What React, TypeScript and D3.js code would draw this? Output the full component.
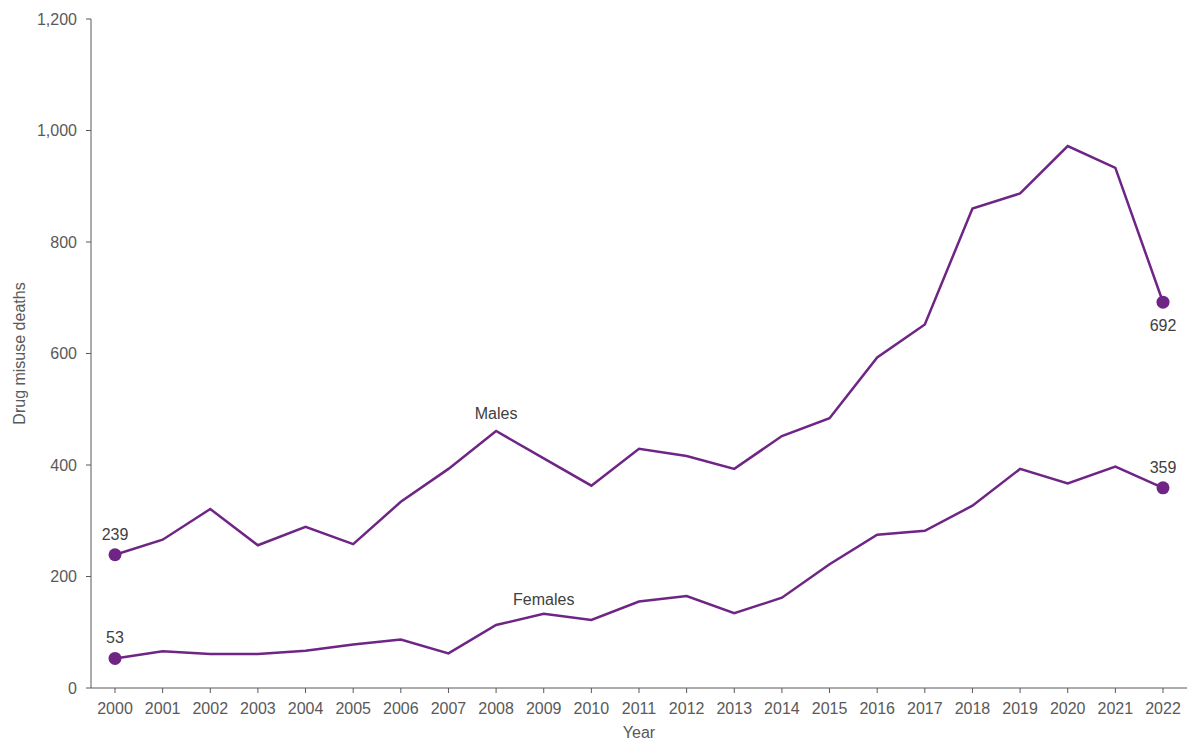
import React from "react";
import * as d3 from "d3";

const years = d3.range(2000, 2023);
const males = [239, 266, 321, 256, 289, 258, 334, 393, 461, 412, 363, 429, 416, 393, 452, 484, 593, 652, 860, 887, 972, 933, 692];
const females = [53, 66, 61, 61, 67, 78, 87, 62, 113, 133, 122, 155, 165, 134, 162, 222, 275, 282, 327, 393, 367, 397, 359];
const yTicks = [0, 200, 400, 600, 800, 1000, 1200];

const W = 1187;
const H = 740;
const PURPLE = "#6e2585";
const GREY = "#595959";
const FONT = "Liberation Sans, Arial, sans-serif";

export default function App() {
  const x = d3.scaleLinear().domain([2000, 2022]).range([115, 1163]);
  const y = d3.scaleLinear().domain([0, 1200]).range([688, 19]);
  const line = d3
    .line<number>()
    .x((_, i) => x(years[i]))
    .y((d) => y(d));
  const fmt = d3.format(",");
  const last = years.length - 1;

  return (
    <svg
      width={W}
      height={H}
      style={{ position: "absolute", left: 0, top: 0, background: "#fff" }}
      fontFamily={FONT}
    >
      {/* y axis */}
      <line x1={91} x2={91} y1={y(1200)} y2={y(0)} stroke={GREY} strokeWidth={1} />
      {yTicks.map((t) => (
        <g key={t}>
          <line x1={86} x2={91} y1={y(t)} y2={y(t)} stroke={GREY} />
          <text x={77} y={y(t)} dy="0.35em" textAnchor="end" fontSize={16} fill={GREY}>
            {fmt(t)}
          </text>
        </g>
      ))}
      {/* x axis */}
      <line x1={91} x2={1187} y1={y(0)} y2={y(0)} stroke={GREY} strokeWidth={1} />
      {years.map((yr) => (
        <g key={yr}>
          <line x1={x(yr)} x2={x(yr)} y1={y(0)} y2={y(0) + 5} stroke={GREY} />
          <text x={x(yr)} y={714} textAnchor="middle" fontSize={16} fill={GREY}>
            {yr}
          </text>
        </g>
      ))}
      <text x={639} y={738} textAnchor="middle" fontSize={16} fill={GREY}>
        Year
      </text>
      <text
        transform={`translate(25, ${y(600)}) rotate(-90)`}
        textAnchor="middle"
        fontSize={16}
        fill={GREY}
      >
        Drug misuse deaths
      </text>

      {/* lines */}
      <path d={line(males) || ""} fill="none" stroke={PURPLE} strokeWidth={2.5} strokeLinejoin="miter" />
      <path d={line(females) || ""} fill="none" stroke={PURPLE} strokeWidth={2.5} strokeLinejoin="miter" />

      {/* endpoints */}
      {[
        [0, males[0]],
        [last, males[last]],
        [0, females[0]],
        [last, females[last]],
      ].map(([i, v], k) => (
        <circle key={k} cx={x(years[i])} cy={y(v)} r={6.5} fill={PURPLE} />
      ))}

      <text x={x(2000)} y={y(males[0]) - 15} textAnchor="middle" fontSize={16} fill="#404040">
        {males[0]}
      </text>
      <text x={x(2000)} y={y(females[0]) - 15} textAnchor="middle" fontSize={16} fill="#404040">
        {females[0]}
      </text>
      <text x={x(2022)} y={y(males[last]) + 29} textAnchor="middle" fontSize={16} fill="#404040">
        {males[last]}
      </text>
      <text x={x(2022)} y={y(females[last]) - 15} textAnchor="middle" fontSize={16} fill="#404040">
        {females[last]}
      </text>

      <text x={x(2008)} y={y(males[8]) - 12} textAnchor="middle" fontSize={16} fill="#404040">
        Males
      </text>
      <text x={x(2009)} y={y(females[9]) - 9} textAnchor="middle" fontSize={16} fill="#404040">
        Females
      </text>
    </svg>
  );
}
